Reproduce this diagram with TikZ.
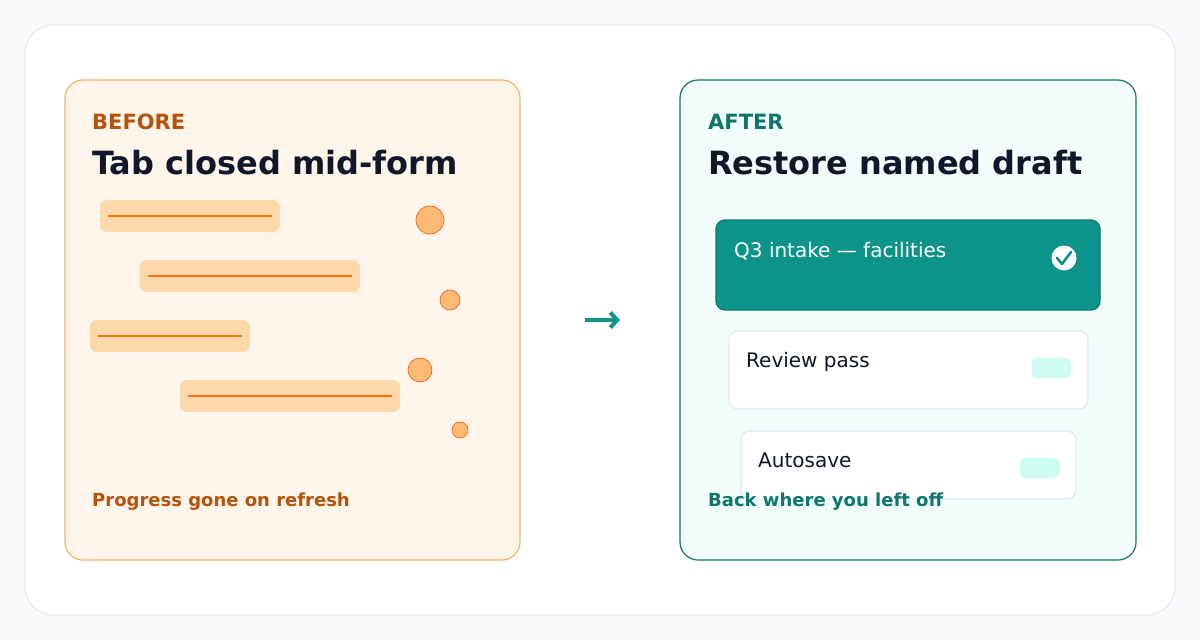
\documentclass[tikz,border=0pt]{standalone}
\usepackage{fontspec}
\setmainfont{DejaVu Sans}
\usetikzlibrary{positioning,arrows.meta}
\definecolor{pagebg}{HTML}{F8FAFC}
\definecolor{edge}{HTML}{E2E8F0}
\definecolor{ink}{HTML}{0F172A}
\definecolor{warmbg}{HTML}{FFF5EB}
\definecolor{warmedge}{HTML}{F6B26B}
\definecolor{warmtext}{HTML}{B45309}
\definecolor{barfill}{HTML}{FED7AA}
\definecolor{barline}{HTML}{F97316}
\definecolor{dotfill}{HTML}{FDBA74}
\definecolor{dotedge}{HTML}{EA580C}
\definecolor{coolbg}{HTML}{F0FDFA}
\definecolor{teal}{HTML}{0D9488}
\definecolor{tealdark}{HTML}{0F766E}
\definecolor{pill}{HTML}{CCFBF1}

\begin{document}
\begin{tikzpicture}[x=1pt,y=-1pt,
    panel/.style={rounded corners=18pt, line width=1.2pt},
    bar/.style={fill=barfill, rounded corners=7pt},
    barrule/.style={barline, line width=1.2pt},
    dot/.style={circle, fill=dotfill, draw=dotedge, line width=0.6pt, inner sep=0pt},
    kicker/.style={anchor=base west, inner sep=0pt, font=\bfseries\fontsize{21}{24}\selectfont},
    title/.style={anchor=base west, inner sep=0pt, text=ink, font=\bfseries\fontsize{32}{36}\selectfont},
    foot/.style={anchor=base west, inner sep=0pt, font=\bfseries\fontsize{18}{21}\selectfont},
    card/.style={rounded corners=9pt, line width=1.2pt},
    cardtext/.style={anchor=base west, inner sep=0pt, font=\fontsize{20}{23}\selectfont},
    tag/.style={fill=pill, rounded corners=5pt}]
  \fill[pagebg] (0,0) rectangle (1200,640);
  \useasboundingbox (0,0) rectangle (1200,640);
  \draw[edge, fill=white, rounded corners=28pt, line width=1.2pt] (25,25) rectangle (1175,615);

  % before panel
  \draw[panel, draw=warmedge, fill=warmbg] (65,80) rectangle (520,560);
  \node[kicker, text=warmtext] (bk) at (92,129) {BEFORE};
  \node[title] (bt) at (92,174) {Tab closed mid-form};
  \foreach \xa/\xb/\yy in {100/280/200, 140/360/260, 90/250/320, 180/400/380}{
    \fill[bar] (\xa,\yy) rectangle (\xb,\yy+32);
    \draw[barrule] (\xa+8,\yy+16) -- (\xb-8,\yy+16);
  }
  \node[dot, minimum size=28pt] (d1) at (430,220) {};
  \node[dot, minimum size=20pt] (d2) at (450,300) {};
  \node[dot, minimum size=24pt] (d3) at (420,370) {};
  \node[dot, minimum size=16pt] (d4) at (460,430) {};
  \node[foot, text=warmtext] (bf) at (92,506) {Progress gone on refresh};

  % arrow
  \coordinate (a1) at (585,320);
  \coordinate (a2) at (620,320);
  \draw[teal, line width=4pt, -{Straight Barb[length=7pt,width=15pt]}] (a1) -- (a2);

  % after panel
  \draw[panel, draw=tealdark, fill=coolbg] (680,80) rectangle (1136,560);
  \node[kicker, text=tealdark] (ak) at (708,129) {AFTER};
  \node[title] (at) at (708,174) {Restore named draft};

  \draw[card, draw=tealdark, fill=teal] (716,220) rectangle (1100,310);
  \node[cardtext, text=white] (c1) at (734,257) {Q3 intake — facilities};
  \node[circle, fill=white, inner sep=0pt, minimum size=25pt] (ok) at (1064,258) {};
  \draw[teal, line width=2.6pt, line cap=round, line join=round]
    (1057,258) -- (1062,264) -- (1071,252);

  \draw[card, draw=edge, fill=white] (729,331) rectangle (1088,409);
  \node[cardtext, text=ink] (c2) at (746,367) {Review pass};
  \fill[tag] (1032,358) rectangle (1071,378);

  \draw[card, draw=edge, fill=white] (741,431) rectangle (1076,499);
  \node[cardtext, text=ink] (c3) at (758,467) {Autosave};
  \fill[tag] (1020,458) rectangle (1059,478);

  \node[foot, text=tealdark] (af) at (708,506) {Back where you left off};
\end{tikzpicture}
\end{document}
